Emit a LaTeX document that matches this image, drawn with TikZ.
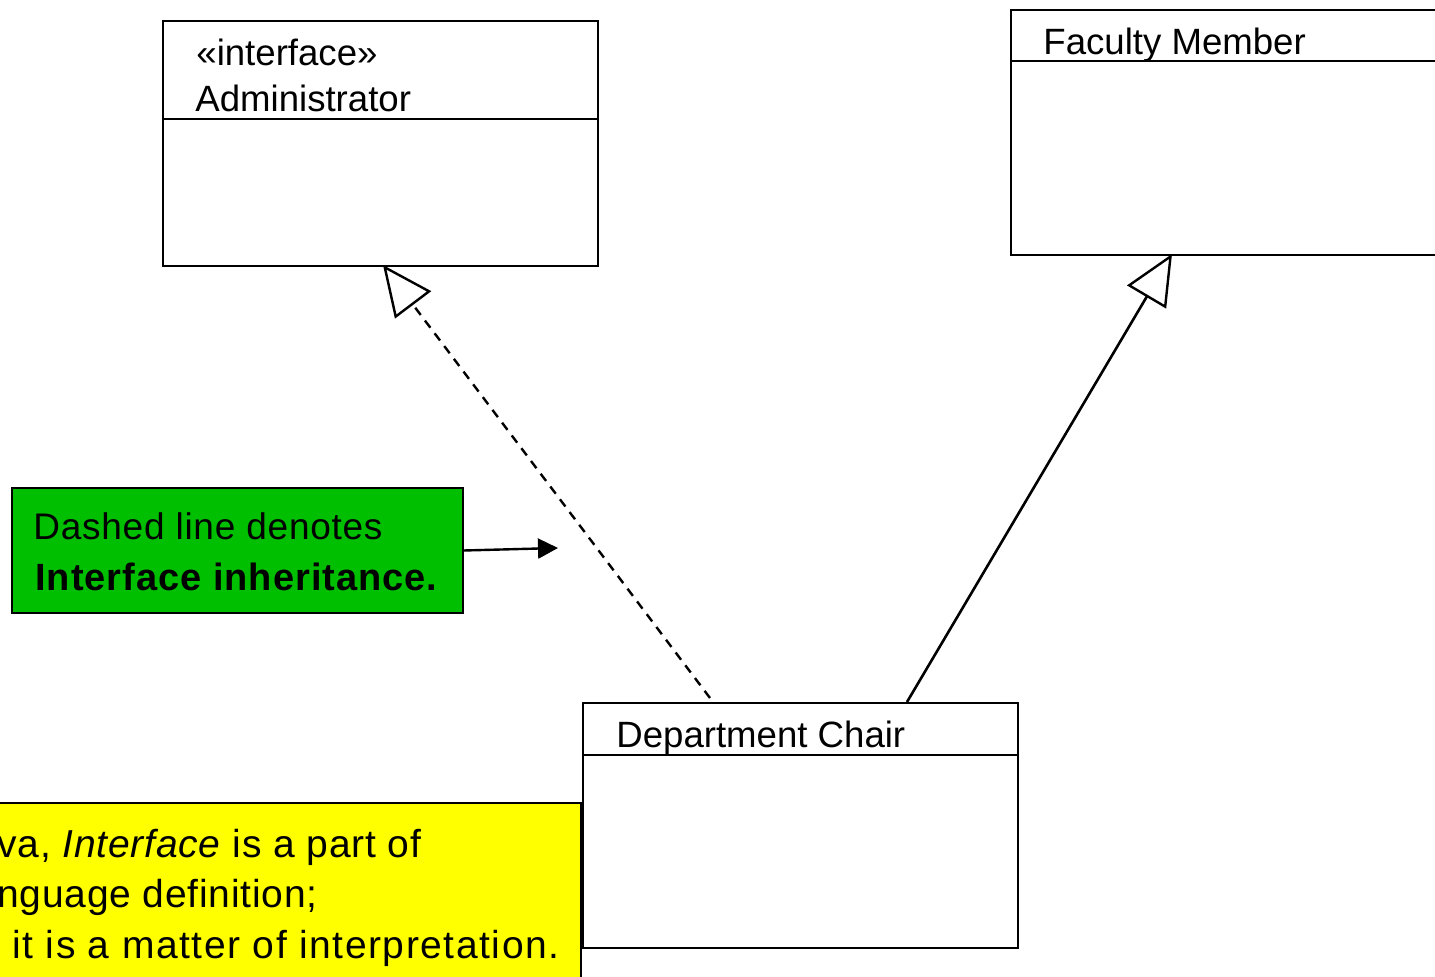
\documentclass[tikz,border=0pt]{standalone}
\usepackage{fontspec}
\setmainfont{Liberation Sans}
\newfontfamily\notefont[LetterSpace=2]{Liberation Sans}
\newfontfamily\notefontwide[LetterSpace=2.6]{Liberation Sans}
\newfontfamily\notefontwider[LetterSpace=4]{Liberation Sans}
\usetikzlibrary{arrows.meta}
\definecolor{notegreen}{RGB}{0,190,0}
\definecolor{noteyellow}{RGB}{255,255,0}
\tikzset{
  classbox/.style={draw=black, line width=1pt, fill=white, anchor=north west,
    minimum width=217.5pt, minimum height=122.5pt, inner sep=0pt},
  divider/.style={line width=1pt},
  classtext/.style={anchor=base west, inner sep=0pt,
    font=\fontsize{18.3pt}{22pt}\selectfont},
  notebox/.style={draw=black, line width=1pt, anchor=north west, inner sep=0pt},
  notetext/.style={anchor=base west, inner sep=0pt,
    font=\notefont\fontsize{18.5pt}{23pt}\selectfont},
  realize/.style={line width=1.2pt, dash pattern=on 4.5pt off 3.5pt,
    -{Triangle[open, length=25pt, width=22.5pt, line width=1.2pt, fill=white]}},
  generalize/.style={line width=1.3pt,
    -{Triangle[open, length=25pt, width=22.5pt, line width=1.2pt, fill=white]}},
  pointer/.style={line width=1.2pt, -{Triangle[length=10pt, width=10pt]}}
}
\begin{document}
\begin{tikzpicture}[x=0.5pt, y=-0.5pt]
  \useasboundingbox (0,0) rectangle (1435,977);
  \clip (0,0) rectangle (1435,977);
  \fill[white] (0,0) rectangle (1435,977);

  % class boxes
  \node[classbox] (admin) at (162,20) {};
  \draw[divider] (162,119) -- (597,119);
  \node[classtext] (adminst) at (196,66) {«interface»};
  \node[classtext] (adminname) at (195,112) {Administrator};

  \node[classbox] (faculty) at (1010,9) {};
  \draw[divider] (1010,61) -- (1445,61);
  \node[classtext] (facultyname) at (1043,55) {Faculty Member};

  \node[classbox] (chair) at (582,702) {};
  \draw[divider] (582,755) -- (1018,755);
  \node[classtext] (chairname) at (616,748) {Department Chair};

  % connector end points on the box edges
  \coordinate (chairL) at (710,698);
  \coordinate (chairR) at (907,702);
  \coordinate (adminB) at (383,265);
  \coordinate (facultyB) at (1172,254);

  % interface realization (dashed) and generalization (solid)
  \draw[realize] (chairL) -- (adminB);
  \draw[generalize] (chairR) -- (facultyB);

  % green note with its pointer
  \node[notebox, fill=notegreen, minimum width=225.5pt, minimum height=62.5pt]
    (green) at (11,487) {};
  \node[notetext] (green1) at (33,540) {Dashed line denotes};
  \node[notetext, font=\notefontwide\bfseries\fontsize{19pt}{23pt}\selectfont]
    (green2) at (35,591) {Interface inheritance.};
  \coordinate (pointTip) at (558,548);
  \draw[pointer] (green.east) -- (pointTip);

  % yellow note
  \node[notebox, fill=noteyellow, minimum width=300pt, minimum height=120pt]
    (yellow) at (-20,802) {};
  \node[notetext, font=\notefont\fontsize{19.5pt}{24pt}\selectfont]
    (yellow1) at (-3,857) {va, \textit{Interface} is a part of};
  \node[notetext, font=\notefont\fontsize{19.5pt}{24pt}\selectfont]
    (yellow2) at (-3,907) {nguage definition;};
  \node[notetext, font=\notefontwider\fontsize{19.5pt}{24pt}\selectfont]
    (yellow3) at (12,958) {it is a matter of interpretation.};
\end{tikzpicture}
\end{document}
